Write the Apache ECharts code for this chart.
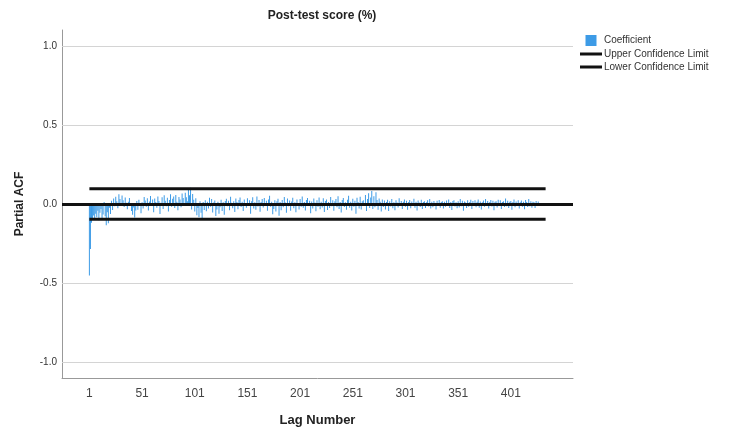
<!DOCTYPE html>
<html>
<head>
<meta charset="utf-8">
<script src="https://cdn.jsdelivr.net/npm/echarts@6/dist/echarts.min.js"></script>
<style>html,body{margin:0;padding:0;background:#fff}#c{width:736px;height:436px}</style>
</head>
<body>
<div id="c"></div>
<script>
// Partial ACF coefficients, lags 1..427
const coefficients = [
-0.452,-0.285,-0.118,-0.095,-0.072,-0.098,-0.061,-0.084,-0.043,-0.102,
-0.056,-0.031,-0.089,-0.067,0.012,-0.078,-0.135,-0.052,-0.121,-0.024,
-0.064,0.021,-0.038,0.034,-0.015,0.046,0.018,-0.027,0.062,0.031,
-0.012,0.053,0.024,-0.019,0.041,0.008,-0.033,0.015,0.038,-0.007,
-0.045,-0.068,-0.022,-0.085,-0.041,0.019,-0.036,0.027,-0.012,-0.058,
0.011,-0.029,0.044,0.022,-0.018,0.037,-0.041,0.016,0.051,-0.009,
0.028,-0.052,0.035,0.013,-0.024,0.047,0.019,-0.063,0.008,0.042,
-0.031,0.055,0.021,-0.014,0.039,-0.047,0.026,0.062,-0.018,0.033,
0.048,-0.025,0.057,0.014,-0.039,0.045,0.029,-0.021,0.066,0.038,
-0.012,0.071,0.043,0.017,0.098,0.056,0.102,-0.034,0.063,0.027,
-0.048,0.036,-0.071,-0.026,-0.083,0.018,-0.055,-0.092,0.012,-0.038,
0.024,-0.046,0.015,-0.028,0.039,-0.017,0.031,-0.054,0.009,0.022,
-0.076,-0.035,0.014,-0.062,-0.021,0.027,-0.044,0.011,-0.068,0.019,
0.033,-0.015,0.021,-0.039,0.046,0.008,-0.027,0.018,-0.051,0.035,
0.012,-0.033,0.026,0.041,-0.019,0.015,-0.045,0.029,0.007,-0.024,
0.036,-0.012,0.023,-0.061,0.017,0.042,-0.028,0.011,-0.037,0.048,
-0.016,0.025,-0.049,0.013,0.031,-0.022,0.038,-0.009,0.021,-0.042,
0.029,0.052,-0.018,0.014,-0.065,-0.031,0.024,-0.047,0.017,0.033,
-0.074,0.012,-0.039,0.026,-0.021,0.045,0.009,-0.056,0.034,-0.015,
0.022,-0.043,0.016,0.039,-0.027,0.011,-0.052,0.028,0.006,-0.035,
0.031,-0.018,0.047,-0.024,0.013,-0.041,0.025,0.038,-0.012,0.021,
-0.058,0.016,-0.029,0.034,0.009,-0.046,0.023,-0.017,0.041,-0.033,
0.014,-0.022,0.036,-0.051,0.019,0.028,-0.038,0.012,-0.026,0.044,
-0.015,0.024,-0.043,0.017,0.032,-0.021,0.049,-0.031,0.013,-0.054,
0.026,0.038,-0.019,0.011,-0.036,0.027,0.052,-0.024,0.015,-0.041,
0.033,-0.017,0.021,-0.062,0.039,0.012,-0.028,0.046,-0.035,0.018,
0.024,-0.013,0.057,-0.044,0.031,0.068,-0.026,0.041,0.082,-0.032,
0.049,-0.021,0.074,0.026,-0.037,0.035,0.015,-0.048,0.028,-0.019,
0.022,-0.034,0.013,0.027,-0.045,0.018,-0.016,0.031,-0.027,0.011,
-0.039,0.024,0.009,-0.022,0.036,-0.013,0.019,-0.031,0.014,0.028,
-0.018,0.021,-0.036,0.012,0.025,-0.027,0.016,-0.011,0.033,-0.024,
0.015,-0.041,0.022,0.009,-0.019,0.027,-0.032,0.013,0.018,-0.025,
0.011,0.024,-0.016,0.031,-0.028,0.014,-0.021,0.019,0.008,-0.034,
0.021,-0.013,0.026,-0.023,0.012,0.017,-0.029,0.015,-0.018,0.022,
-0.011,0.028,-0.025,0.013,-0.038,0.019,0.024,-0.016,0.011,-0.027,
0.018,-0.022,0.031,-0.014,0.021,-0.043,0.016,0.009,-0.026,0.023,
-0.017,0.012,0.027,-0.031,0.019,-0.012,0.024,-0.021,0.014,0.029,
-0.024,0.016,-0.035,0.011,0.022,-0.018,0.032,-0.013,0.019,-0.028,
0.013,0.026,-0.016,0.021,-0.039,0.014,0.018,-0.022,0.027,-0.011,
0.023,-0.031,0.012,0.017,-0.019,0.034,-0.014,0.021,-0.026,0.015,
0.019,-0.037,0.013,0.028,-0.021,0.016,-0.012,0.024,-0.029,0.011,
0.022,-0.017,0.014,-0.033,0.026,0.012,-0.019,0.031,-0.014,0.018,
-0.023,0.015,0.011,-0.026,0.019,-0.012,0.016
];
const firstLag = 1;
const upperLimit = 0.097;
const lowerLimit = -0.097;
const limitLags = [1, 434];
const xTickLabels = [1, 51, 101, 151, 201, 251, 301, 351, 401];
const yTickLabels = [-1.0, -0.5, 0.0, 0.5, 1.0];
const gridValues = [-1.0, -0.5, 0.5, 1.0];

const barData = coefficients.map((v, i) => [firstLag + i, v]);
const upperData = limitLags.map(l => [l, upperLimit]);
const lowerData = limitLags.map(l => [l, lowerLimit]);

const FONT = 'Liberation Sans, Arial, sans-serif';
const LINE_ICON = 'path://M0,0L22,0L22,3L0,3Z';
const chart = echarts.init(document.getElementById('c'), null, {renderer: 'canvas'});
chart.setOption({
  animation: false,
  backgroundColor: '#fff',
  textStyle: {fontFamily: FONT},
  title: {
    text: 'Post-test score (%)',
    left: 317, top: 5, textAlign: 'center',
    textStyle: {fontSize: 12, fontWeight: 'bold', color: '#222', fontFamily: FONT}
  },
  legend: {
    orient: 'vertical', left: 575, top: 30,
    itemWidth: 22, itemHeight: 11, itemGap: 3,
    textStyle: {fontSize: 10, color: '#333', fontFamily: FONT, padding: [0, 0, 0, -3]},
    data: [
      {name: 'Coefficient', icon: 'path://M0,0L10,0L10,10L0,10Z'},
      {name: 'Upper Confidence Limit', icon: LINE_ICON},
      {name: 'Lower Confidence Limit', icon: LINE_ICON}
    ]
  },
  grid: {left: 62, right: 163, top: 30, bottom: 58},
  xAxis: {
    type: 'value', min: -25, max: 460,
    name: 'Lag Number', nameLocation: 'middle', nameGap: 36,
    nameTextStyle: {fontSize: 13, fontWeight: 'bold', color: '#222', fontFamily: FONT},
    axisLine: {show: true, onZero: false, lineStyle: {color: '#999', width: 1}},
    axisTick: {show: false},
    splitLine: {show: false},
    axisLabel: {customValues: xTickLabels, fontSize: 12, color: '#444', margin: 10, fontFamily: FONT}
  },
  yAxis: {
    type: 'value', min: -1.1, max: 1.1,
    name: 'Partial ACF', nameLocation: 'middle', nameGap: 36,
    nameTextStyle: {fontSize: 12, fontWeight: 'bold', color: '#222', fontFamily: FONT},
    axisLine: {show: true, onZero: false, lineStyle: {color: '#999', width: 1}},
    axisTick: {show: false},
    splitLine: {show: false},
    axisLabel: {customValues: yTickLabels, fontSize: 10, color: '#333', margin: 5,
      formatter: v => v.toFixed(1), fontFamily: FONT}
  },
  series: [
    {
      name: 'Coefficient', type: 'bar', barWidth: 1,
      itemStyle: {color: '#3d9be6'},
      data: barData,
      z: 2,
      markLine: {
        silent: true, symbol: 'none', label: {show: false},
        lineStyle: {color: '#d4d4d4', width: 1, type: 'solid'},
        data: gridValues.map(v => ({yAxis: v}))
      }
    },
    {
      name: 'Upper Confidence Limit', type: 'line', showSymbol: false, symbol: 'none',
      lineStyle: {color: '#111', width: 3}, itemStyle: {color: '#111'},
      data: upperData, z: 4,
      markLine: {
        silent: true, symbol: 'none', label: {show: false},
        lineStyle: {color: '#111', width: 3, type: 'solid'},
        data: [{yAxis: 0}]
      }
    },
    {
      name: 'Lower Confidence Limit', type: 'line', showSymbol: false, symbol: 'none',
      lineStyle: {color: '#111', width: 3}, itemStyle: {color: '#111'},
      data: lowerData, z: 4
    }
  ]
});
</script>
</body>
</html>
